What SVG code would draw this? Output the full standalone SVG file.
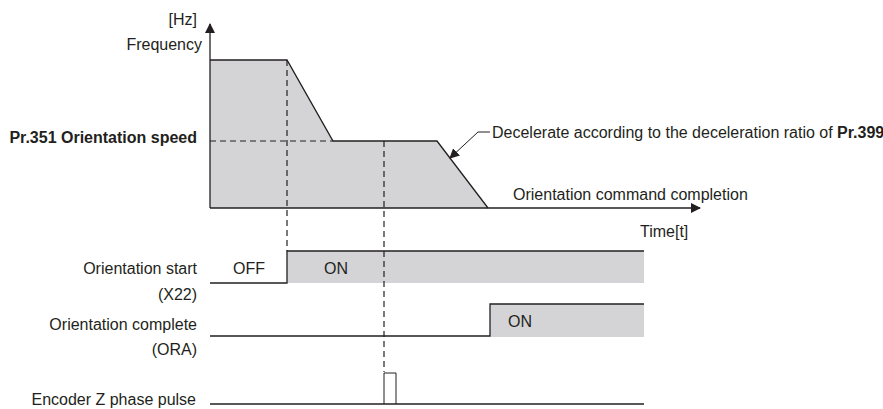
<svg xmlns="http://www.w3.org/2000/svg" width="883" height="409" viewBox="0 0 883 409">
<style>
text{font-family:"Liberation Sans",Arial,sans-serif;font-size:16px;fill:#231f20}
.b{font-weight:bold}
.e{text-anchor:end}
.ln{fill:none;stroke:#231f20;stroke-width:1.3}
.fill{fill:#d4d4d6;stroke:none}
.dash{fill:none;stroke:#231f20;stroke-width:1.2;stroke-dasharray:6,4}
.thin{fill:none;stroke:#231f20;stroke-width:1}
</style>
<defs>
<marker id="ah" markerWidth="10" markerHeight="10" refX="9" refY="5" orient="auto" markerUnits="userSpaceOnUse">
<path d="M0,0 L10,5 L0,10 Z" fill="#231f20"/>
</marker>
</defs>
<g id="frequency-chart">
<polygon class="fill" points="210,60 287,60 333,141 437,141 488,208 210,208"/>
<polyline class="ln" points="210,60 287,60 333,141 437,141 488,208"/>
<line class="ln" x1="210" y1="208" x2="210" y2="24" marker-end="url(#ah)"/>
<line class="ln" x1="210" y1="208" x2="700" y2="208" marker-end="url(#ah)"/>
<text class="e" x="197" y="25">[Hz]</text>
<text class="e" x="202" y="50">Frequency</text>
<text class="b e" x="197" y="143">Pr.351 Orientation speed</text>
<text x="513" y="200">Orientation command completion</text>
<text x="640" y="237">Time[t]</text>
<text x="492" y="138">Decelerate according to the deceleration ratio of <tspan class="b">Pr.399</tspan></text>
</g>
<g id="x22-signal">
<rect class="fill" x="287" y="251" width="357" height="32"/>
<polyline class="ln" points="210,283 287,283 287,251 644,251"/>
<text class="e" x="197" y="274">Orientation start</text>
<text class="e" x="197" y="300">(X22)</text>
<text x="233" y="274">OFF</text>
<text x="324" y="274">ON</text>
</g>
<g id="ora-signal">
<rect class="fill" x="490" y="304" width="154" height="33"/>
<polyline class="ln" points="210,336 490,336 490,304 644,304"/>
<text class="e" x="197" y="330">Orientation complete</text>
<text class="e" x="197" y="355">(ORA)</text>
<text x="508" y="327">ON</text>
</g>
<g id="encoder-signal">
<line class="ln" x1="210" y1="404" x2="644" y2="404"/>
<polyline class="thin" points="384,404 384,373 396,373 396,404"/>
<text class="e" x="196" y="405">Encoder Z phase pulse</text>
</g>
<g id="connectors">
<line class="dash" x1="210" y1="141" x2="333" y2="141"/>
<line class="dash" x1="287" y1="60" x2="287" y2="251"/>
<line class="dash" x1="384" y1="141" x2="384" y2="372"/>
<polyline class="thin" points="490,132 478,132 450,158" marker-end="url(#ah)"/>
</g>
</svg>
